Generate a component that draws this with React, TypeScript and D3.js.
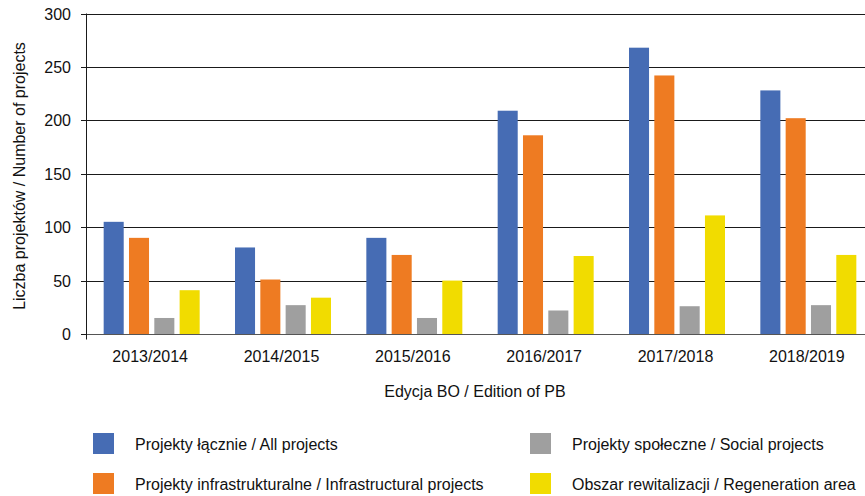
import React, { useEffect, useRef } from 'react';
import * as d3 from 'd3';

const editions = ['2013/2014', '2014/2015', '2015/2016', '2016/2017', '2017/2018', '2018/2019'];
const allProjects = [105, 81, 90, 209, 268, 228];
const infraProjects = [90, 51, 74, 186, 242, 202];
const socialProjects = [15, 27, 15, 22, 26, 27];
const regenArea = [41, 34, 50, 73, 111, 74];
const yTicks = [0, 50, 100, 150, 200, 250, 300];

const seriesNames = [
  'Projekty łącznie / All projects',
  'Projekty infrastrukturalne / Infrastructural projects',
  'Projekty społeczne / Social projects',
  'Obszar rewitalizacji / Regeneration area',
];
const seriesColors = ['#466cb4', '#ee7b22', '#9f9f9f', '#f1dc00'];
const seriesValues = [allProjects, infraProjects, socialProjects, regenArea];

const W = 865;
const H = 496;
const FONT = '"Liberation Sans", Arial, sans-serif';

const App: React.FC = () => {
  const svgRef = useRef<SVGSVGElement | null>(null);

  useEffect(() => {
    const svg = d3.select(svgRef.current);
    svg.selectAll('*').remove();

    const axisX = 86;
    const y = d3.scaleLinear().domain([0, 300]).range([334, 13.5]);
    const x = d3.scaleBand<string>().domain(editions).range([86, 874]);
    const inner = d3.scaleBand<number>().domain([0, 1, 2, 3]).range([0, 96]).paddingInner(5 / 24).paddingOuter(0);
    const groupOffset = (x.bandwidth() - 96) / 2;

    // gridlines
    svg.append('g')
      .selectAll('line')
      .data(yTicks.slice(1))
      .enter()
      .append('line')
      .attr('x1', axisX)
      .attr('x2', W)
      .attr('y1', (d) => Math.round(y(d)) + 0.5)
      .attr('y2', (d) => Math.round(y(d)) + 0.5)
      .attr('stroke', '#1a1a1a')
      .attr('stroke-width', 1);

    // bars
    seriesValues.forEach((vals, si) => {
      svg.append('g')
        .selectAll('rect')
        .data(vals)
        .enter()
        .append('rect')
        .attr('x', (_d, i) => (x(editions[i]) || 0) + groupOffset + (inner(si) || 0))
        .attr('y', (d) => y(d))
        .attr('width', inner.bandwidth())
        .attr('height', (d) => y(0) - y(d))
        .attr('fill', seriesColors[si]);
    });

    // axes lines
    const y0 = Math.round(y(0)) + 0.5;
    svg.append('line')
      .attr('x1', axisX - 5).attr('x2', W).attr('y1', y0).attr('y2', y0)
      .attr('stroke', '#555').attr('stroke-width', 1.2);
    svg.append('line')
      .attr('x1', axisX + 0.5).attr('x2', axisX + 0.5).attr('y1', y(300)).attr('y2', y0 + 5)
      .attr('stroke', '#1a1a1a').attr('stroke-width', 1);

    // y ticks
    const yt = svg.append('g');
    yTicks.forEach((t) => {
      const py = Math.round(y(t)) + 0.5;
      yt.append('line').attr('x1', axisX - 5).attr('x2', axisX).attr('y1', py).attr('y2', py).attr('stroke', '#1a1a1a');
      yt.append('text')
        .attr('x', 71)
        .attr('y', py)
        .attr('dy', '0.35em')
        .attr('text-anchor', 'end')
        .attr('font-size', 16)
        .attr('font-family', FONT)
        .attr('fill', '#111')
        .text(t);
    });

    // x labels
    svg.append('g')
      .selectAll('text')
      .data(editions)
      .enter()
      .append('text')
      .attr('x', (d) => (x(d) || 0) + groupOffset + 46.5)
      .attr('y', 362)
      .attr('text-anchor', 'middle')
      .attr('font-size', 16)
      .attr('font-family', FONT)
      .attr('fill', '#111')
      .text((d) => d);

    // axis titles
    svg.append('text')
      .attr('x', 475)
      .attr('y', 397)
      .attr('text-anchor', 'middle')
      .attr('font-size', 16)
      .attr('font-family', FONT)
      .attr('fill', '#111')
      .text('Edycja BO / Edition of PB');

    svg.append('text')
      .attr('transform', 'translate(25,176) rotate(-90)')
      .attr('text-anchor', 'middle')
      .attr('font-size', 16)
      .attr('font-family', FONT)
      .attr('fill', '#111')
      .text('Liczba projektów / Number of projects');

    // legend
    const legendPos = [
      { x: 93, y: 433 },
      { x: 93, y: 473 },
      { x: 530, y: 433 },
      { x: 530, y: 473 },
    ];
    seriesNames.forEach((name, i) => {
      const p = legendPos[i];
      svg.append('rect').attr('x', p.x).attr('y', p.y).attr('width', 21).attr('height', 21).attr('fill', seriesColors[i]);
      svg.append('text')
        .attr('x', p.x + 42)
        .attr('y', p.y + 17)
        .attr('font-size', 16)
        .attr('font-family', FONT)
        .attr('fill', '#111')
        .text(name);
    });
  }, []);

  return (
    <svg
      ref={svgRef}
      width={W}
      height={H}
      style={{ position: 'absolute', left: 0, top: 0, background: '#fff' }}
    />
  );
};

export default App;
